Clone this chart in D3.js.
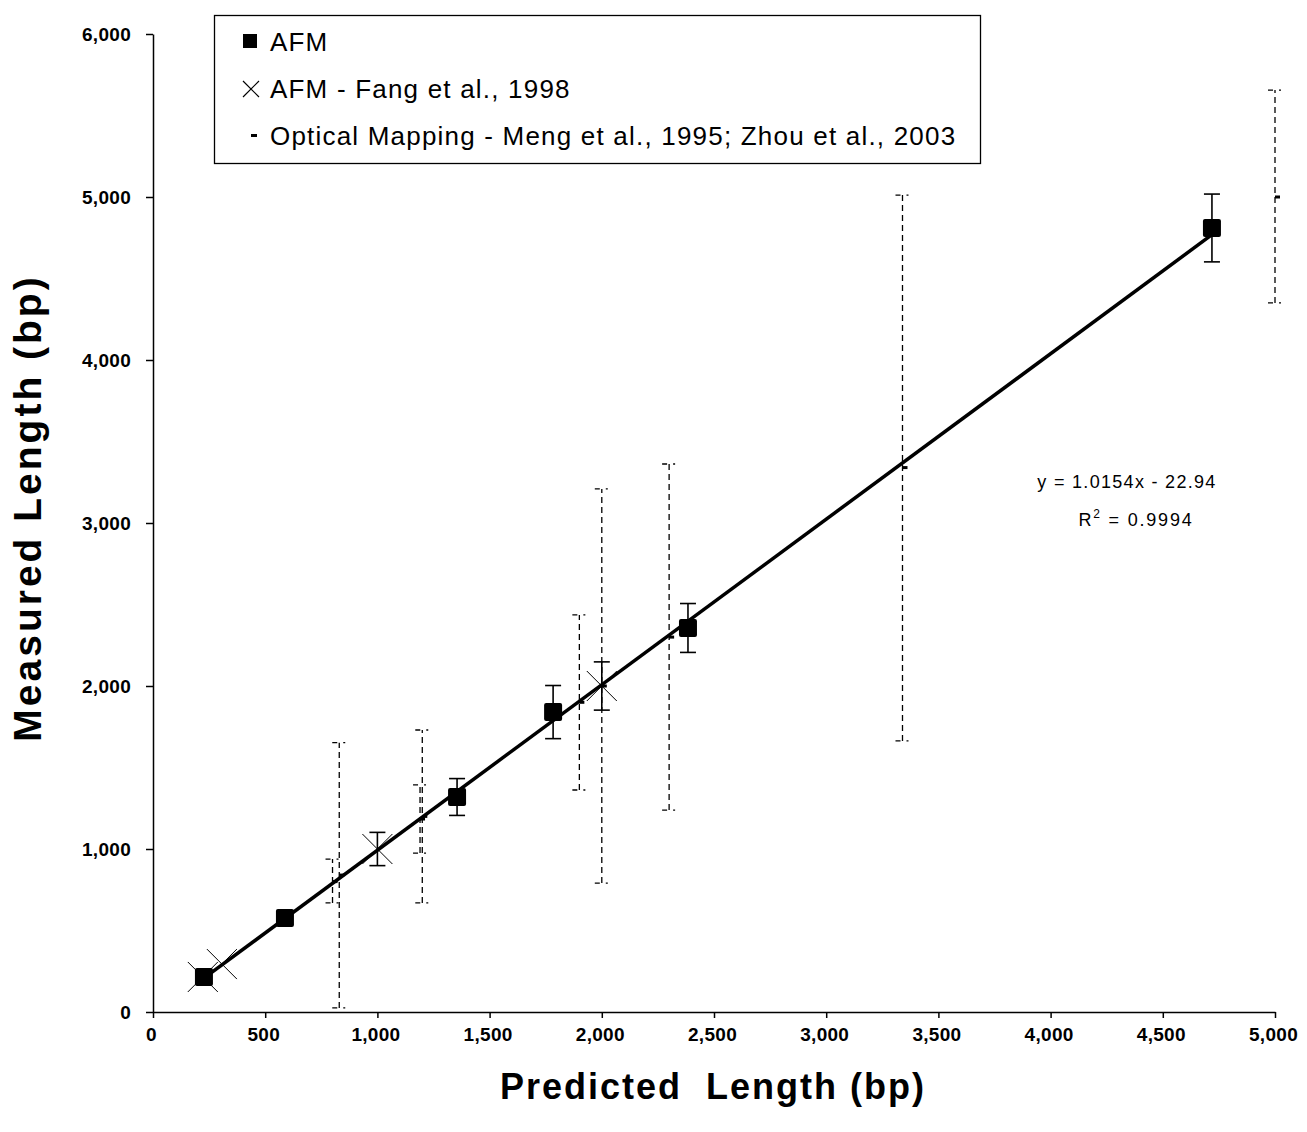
<!DOCTYPE html>
<html>
<head>
<meta charset="utf-8">
<script src="https://cdn.jsdelivr.net/npm/d3@7"></script>
<style>
body { margin: 0; background: #fff; }
text { font-family: "Liberation Sans", Arial, sans-serif; }
.axis path, .axis line { stroke: #000; stroke-width: 1.5px; }
.axis text { font-size: 19px; font-weight: bold; fill: #000; letter-spacing: 0.3px; }
</style>
</head>
<body>
<script>
// AFM measurements (squares)
var afmX = [227, 588, 1355, 1783, 2384, 4719];
var afmY = [215, 577, 1319, 1840, 2356, 4810];
var afmErr = [0, 0, 113, 163, 150, 208];

// AFM - Fang et al., 1998 (crosses)
var fangX = [222, 307, 1000, 2000];
var fangY = [215, 294, 1000, 2000];
var fangErr = [0, 0, 102, 148];

// Optical mapping (dashed error bars)
var optX = [800, 830, 1190, 1200, 1900, 2000, 2300, 3340, 5000];
var optY = [800, 840, 1184, 1200, 1900, 2000, 2300, 3340, 5000];
var optLow = [669, 25, 975, 669, 1362, 791, 1239, 1663, 4350];
var optHigh = [938, 1652, 1393, 1730, 2436, 3209, 3362, 5012, 5656];

// trend line
var slope = 1.0154, intercept = -22.94;

var xTicks = [0, 500, 1000, 1500, 2000, 2500, 3000, 3500, 4000, 4500, 5000];
var yTicks = [0, 1000, 2000, 3000, 4000, 5000, 6000];

var legendLabels = ["AFM", "AFM - Fang et al., 1998", "Optical Mapping - Meng et al., 1995; Zhou et al., 2003"];

// set the dimensions and margins of the graph
var margin = {top: 34, right: 32, bottom: 120, left: 153},
    width = 1307 - margin.left - margin.right,
    height = 1132 - margin.top - margin.bottom;

var x = d3.scaleLinear().domain([0, 5000]).range([0, width]);
var y = d3.scaleLinear().domain([0, 6000]).range([height, 0]);

var svgRoot = d3.select("body").append("svg")
    .attr("width", 1307)
    .attr("height", 1132);

var svg = svgRoot.append("g")
    .attr("transform", "translate(" + margin.left + "," + margin.top + ")");

// optical mapping dashed error bars
var opt = optX.map(function(d, i) { return {x: d, y: optY[i], lo: optLow[i], hi: optHigh[i]}; });
var og = svg.append("g");
og.selectAll(".optbar").data(opt).enter().append("line")
    .attr("x1", function(d) { return x(d.x); })
    .attr("x2", function(d) { return x(d.x); })
    .attr("y1", function(d) { return y(d.lo); })
    .attr("y2", function(d) { return y(d.hi); })
    .attr("stroke", "#000").attr("stroke-width", 1.3)
    .attr("stroke-dasharray", "6,4");
["lo", "hi"].forEach(function(k) {
  og.selectAll(".cap" + k).data(opt).enter().append("line")
      .attr("x1", function(d) { return x(d.x) - 7; })
      .attr("x2", function(d) { return x(d.x) + 7; })
      .attr("y1", function(d) { return y(d[k]); })
      .attr("y2", function(d) { return y(d[k]); })
      .attr("stroke", "#000").attr("stroke-width", 1.3)
      .attr("stroke-dasharray", "5,6,2,10");
});
og.selectAll(".optmark").data(opt).enter().append("rect")
    .attr("x", function(d) { return x(d.x); })
    .attr("y", function(d) { return y(d.y) - 1.5; })
    .attr("width", 5).attr("height", 3)
    .attr("fill", "#000");

// trend line over the AFM range
var xMin = d3.min(afmX), xMax = d3.max(afmX);
svg.append("line")
    .attr("x1", x(xMin)).attr("y1", y(slope * xMin + intercept))
    .attr("x2", x(xMax)).attr("y2", y(slope * xMax + intercept))
    .attr("stroke", "#000").attr("stroke-width", 3.5);

// solid error bars
function errorBars(xs, ys, es) {
  var data = xs.map(function(d, i) { return {x: d, y: ys[i], e: es[i]}; })
      .filter(function(d) { return d.e > 0; });
  var g = svg.append("g").attr("stroke", "#000").attr("stroke-width", 1.6);
  g.selectAll(".v").data(data).enter().append("line")
      .attr("x1", function(d) { return x(d.x); })
      .attr("x2", function(d) { return x(d.x); })
      .attr("y1", function(d) { return y(d.y - d.e); })
      .attr("y2", function(d) { return y(d.y + d.e); });
  [-1, 1].forEach(function(s) {
    g.selectAll(".c").data(data).enter().append("line")
        .attr("x1", function(d) { return x(d.x) - 8; })
        .attr("x2", function(d) { return x(d.x) + 8; })
        .attr("y1", function(d) { return y(d.y + s * d.e); })
        .attr("y2", function(d) { return y(d.y + s * d.e); });
  });
}
errorBars(afmX, afmY, afmErr);
errorBars(fangX, fangY, fangErr);

// AFM squares
svg.selectAll(".sq").data(afmX).enter().append("rect")
    .attr("x", function(d) { return x(d) - 9; })
    .attr("y", function(d, i) { return y(afmY[i]) - 9; })
    .attr("width", 18).attr("height", 18)
    .attr("rx", 2)
    .attr("fill", "#000");

// Fang crosses
var cross = function(cx, cy, r) {
  return "M" + (cx - r) + "," + (cy - r) + "L" + (cx + r) + "," + (cy + r) +
         "M" + (cx - r) + "," + (cy + r) + "L" + (cx + r) + "," + (cy - r);
};
svg.selectAll(".x").data(fangX).enter().append("path")
    .attr("d", function(d, i) { return cross(x(d), y(fangY[i]), 15); })
    .attr("stroke", "#000").attr("stroke-width", 1).attr("fill", "none");

// axes
svg.append("g").attr("class", "axis")
    .attr("transform", "translate(0," + height + ")")
    .call(d3.axisBottom(x).tickValues(xTicks).tickSize(6).tickSizeOuter(0)
      .tickFormat(d3.format(",")))
  .selectAll("text").attr("y", 29).attr("dy", 0).attr("dx", -2);

svg.append("g").attr("class", "axis")
    .call(d3.axisLeft(y).tickValues(yTicks).tickSize(7).tickSizeOuter(0)
      .tickFormat(d3.format(",")))
  .selectAll("text").attr("x", -22);

// axis titles
svgRoot.append("text")
    .attr("x", 713).attr("y", 1099)
    .attr("text-anchor", "middle")
    .style("font-size", "36px").style("font-weight", "bold")
    .style("letter-spacing", "2px")
    .style("white-space", "pre")
    .text("Predicted  Length (bp)");

svgRoot.append("text")
    .attr("transform", "translate(41,508) rotate(-90)")
    .attr("text-anchor", "middle")
    .style("font-size", "39px").style("font-weight", "bold")
    .style("letter-spacing", "3px")
    .text("Measured Length (bp)");

// equation
svgRoot.append("text")
    .attr("x", 1127).attr("y", 488)
    .attr("text-anchor", "middle")
    .style("font-size", "18px").style("letter-spacing", "1.3px")
    .text("y = 1.0154x - 22.94");
var r2 = svgRoot.append("text")
    .attr("x", 1136).attr("y", 526)
    .attr("text-anchor", "middle")
    .style("font-size", "18px").style("letter-spacing", "1.8px")
    .style("white-space", "pre");
r2.append("tspan").text("R");
r2.append("tspan").attr("dy", -8).style("font-size", "12px").text("2");
r2.append("tspan").attr("dy", 8).text(" = 0.9994");

// legend
var lg = svgRoot.append("g");
lg.append("rect")
    .attr("x", 214.5).attr("y", 15.5).attr("width", 766).attr("height", 148)
    .attr("fill", "#fff").attr("stroke", "#000").attr("stroke-width", 1.3);
lg.selectAll(".lt").data(legendLabels).enter().append("text")
    .attr("x", 270)
    .attr("y", function(d, i) { return 51 + i * 47; })
    .style("font-size", "26px").style("letter-spacing", "1.2px")
    .text(function(d) { return d; });
lg.append("rect").attr("x", 243).attr("y", 34).attr("width", 14).attr("height", 14).attr("fill", "#000");
lg.append("path").attr("d", cross(251, 89, 8)).attr("stroke", "#000").attr("stroke-width", 1.2);
lg.append("rect").attr("x", 251).attr("y", 134).attr("width", 6).attr("height", 3).attr("fill", "#000");
</script>
</body>
</html>
